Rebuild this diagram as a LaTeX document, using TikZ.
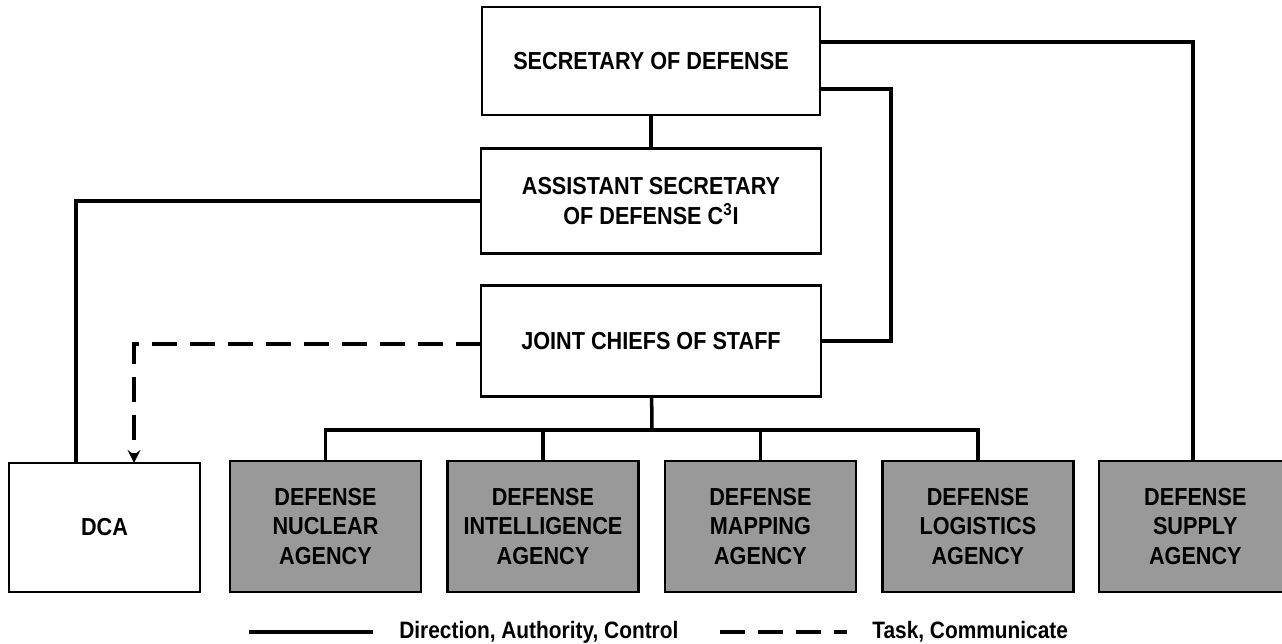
\documentclass[tikz,border=0pt]{standalone}
\usepackage{fontspec}
\newfontfamily\boxfont{Liberation Sans}[FakeStretch=0.88]
\newfontfamily\legendfont{Liberation Sans}[FakeStretch=0.88]
\usepackage{tikz}
\usetikzlibrary{shapes.geometric, arrows, positioning}
\definecolor{agencygray}{gray}{0.6}
\tikzstyle{office} = [rectangle, minimum width=6.8cm, minimum height=2.14cm,
                      text centered, align=center, draw=black, line width=1.3pt,
                      fill=white, outer sep=0pt,
                      font=\boxfont\bfseries\fontsize{14}{17}\selectfont]
\tikzstyle{agency} = [office, minimum width=3.82cm, minimum height=2.62cm,
                      fill=agencygray]
\tikzstyle{line}   = [line width=2pt]
\tikzstyle{task}   = [line width=2.2pt, dash pattern=on 0.5cm off 0.26cm,
                      ->, >=stealth]
\tikzstyle{legendtext} = [anchor=west, inner sep=0pt,
                          font=\legendfont\bfseries\fontsize{13.5}{15}\selectfont]

\begin{document}
\begin{tikzpicture}[x=0.02cm, y=-0.02cm, node distance=2.8cm]
\useasboundingbox (0,0) rectangle (1282,643);
\node (sec) [office, minimum width=6.76cm, minimum height=2.16cm] at (651,61)
      {SECRETARY OF DEFENSE};
\node (asd) [office, below of=sec, minimum height=2.1cm]
      {ASSISTANT SECRETARY\\OF DEFENSE C\textsuperscript{3}I};
\node (jcs) [office, below of=asd, minimum height=2.22cm] {JOINT CHIEFS OF STAFF};
\begin{scope}[node distance=4.35cm]
  \node (nuc) [agency] at (325.5,526.5) {DEFENSE\\NUCLEAR\\AGENCY};
  \node (int) [agency, right of=nuc] {DEFENSE\\INTELLIGENCE\\AGENCY};
  \node (map) [agency, right of=int] {DEFENSE\\MAPPING\\AGENCY};
  \node (log) [agency, right of=map] {DEFENSE\\LOGISTICS\\AGENCY};
  \node (sup) [agency, right of=log, minimum width=3.84cm] {DEFENSE\\SUPPLY\\AGENCY};
  \node (dca) [agency, left of=nuc, xshift=-0.07cm, fill=white,
               minimum height=2.58cm, yshift=-0.02cm] {DCA};
\end{scope}
\coordinate (bus) at (652,430);

\draw [line] (sec) -- (asd);
\draw [line] (jcs) -- (bus);
\draw [line] (nuc.north) |- (bus) -| (log.north);
\draw [line] (int.north) -- (int.north |- bus);
\draw [line] (map.north) -- (map.north |- bus);
\draw [line] ([yshift=0.38cm]sec.east) -| ([xshift=-0.05cm]sup.north);
\draw [line] ([yshift=-0.56cm]sec.east) -- ++(1.42cm,0) |- (jcs.east);
\draw [line] (asd.west) -| ([xshift=-0.57cm]dca.north);
\draw [task] ([yshift=-0.06cm]jcs.west) -| ([xshift=0.59cm]dca.north);

% legend
\coordinate (solidA) at (249,632);
\coordinate (solidB) at (373,632);
\coordinate (dashA)  at (720,632);
\coordinate (dashB)  at (847,632);
\node (dirtext)  [legendtext] at (399,632) {Direction, Authority, Control};
\node (tasktext) [legendtext] at (872,632) {Task, Communicate};
\draw [line] (solidA) -- (solidB);
\draw [line width=2.2pt, dash pattern=on 0.5cm off 0.26cm] (dashA) -- (dashB);
\end{tikzpicture}
\end{document}
